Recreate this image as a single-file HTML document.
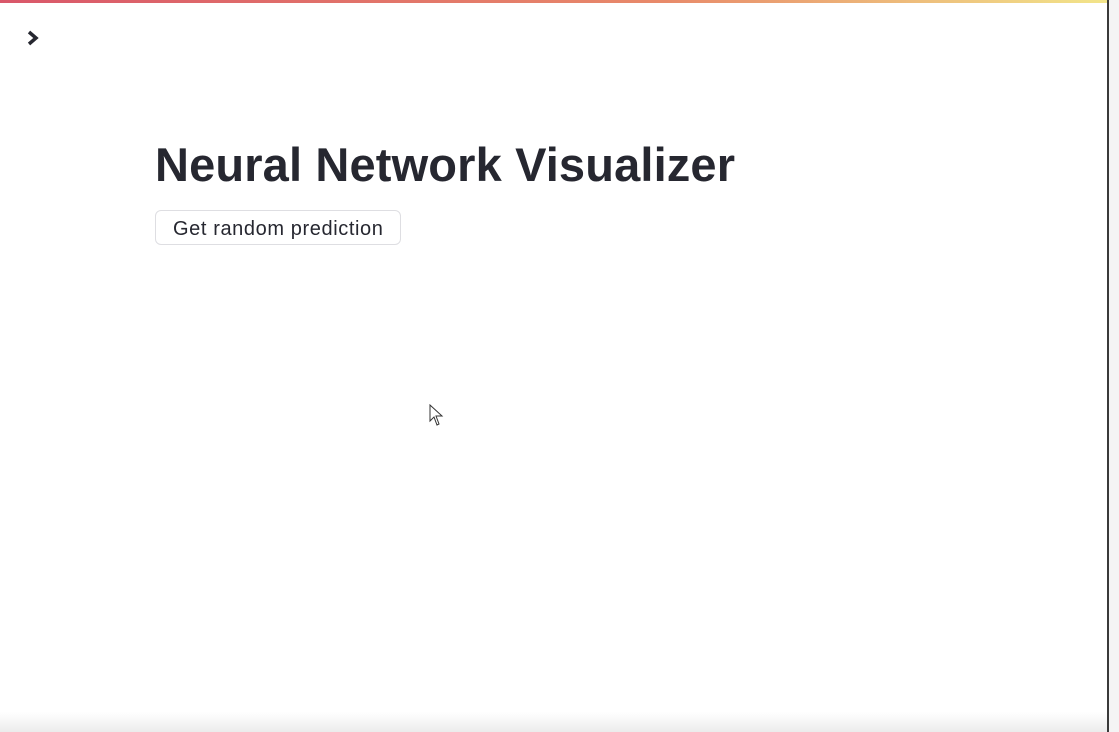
<!DOCTYPE html>
<html><head><style>
html,body{margin:0;padding:0;width:1119px;height:732px;overflow:hidden;background:#fff;font-family:"Liberation Sans",sans-serif;}
.bar{position:absolute;left:0;top:0;width:1108px;height:3px;background:linear-gradient(90deg,#d9576a,#e88a6a 60%,#f2e58a);}
.rline{position:absolute;left:1107px;top:0;width:2px;height:732px;background:#3a3a3a;}
.rpad{position:absolute;left:1109px;top:0;width:10px;height:732px;background:#f4f4f4;}
.bot{position:absolute;left:0;top:712px;width:1107px;height:20px;background:linear-gradient(#fff,#ececec);}
h1{position:absolute;left:155px;top:138px;margin:0;font-size:47px;line-height:54px;font-weight:bold;color:#262730;white-space:nowrap;letter-spacing:0.15px;}
.btn{position:absolute;left:155px;top:210px;width:244px;height:33px;border:1px solid #dedee2;border-radius:6px;box-sizing:content-box;}
.btn span{position:absolute;left:17px;top:7px;font-size:20px;line-height:22px;color:#262730;white-space:nowrap;letter-spacing:0.6px;}
</style></head><body>
<div class="bar"></div>
<div class="rpad"></div><div class="rline"></div>
<div class="bot"></div>
<svg style="position:absolute;left:25px;top:29px" width="18" height="18"><polyline points="4,3 11,9 4,15" fill="none" stroke="#262730" stroke-width="3.5"/></svg>
<h1>Neural Network Visualizer</h1>
<div class="btn"><span>Get random prediction</span></div>
<svg style="position:absolute;left:429px;top:404px" width="16" height="24"><path d="M1,1 L1,17 L5,13 L8,21 L10,20 L7,12 L13,12 Z" fill="#fff" stroke="#333" stroke-width="1"/></svg>
</body></html>
